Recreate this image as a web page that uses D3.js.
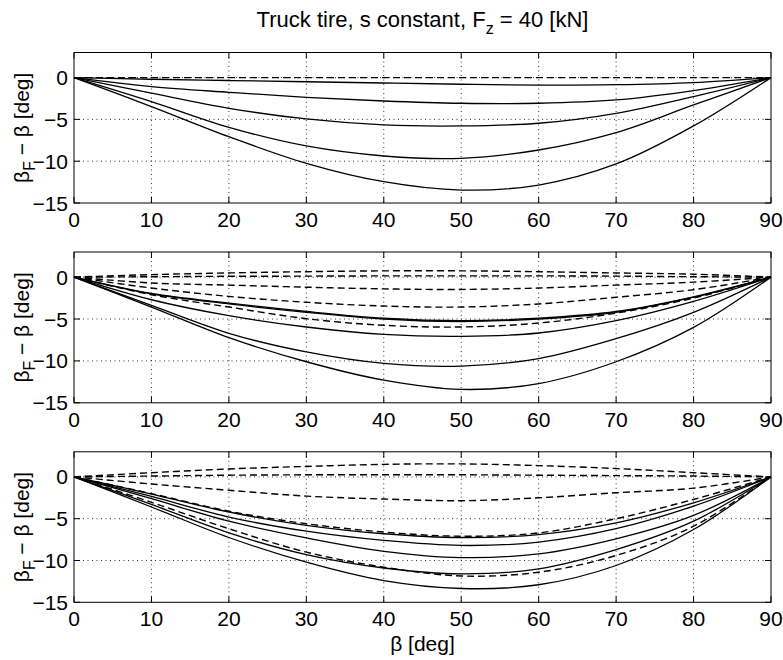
<!DOCTYPE html>
<html><head><meta charset="utf-8">
<script src="https://cdn.jsdelivr.net/npm/d3@7"></script>
<style>body{margin:0;background:#fff}svg{display:block}text{font-family:"Liberation Sans",Arial,Helvetica,sans-serif;fill:#000}</style>
</head><body>
<script>
const beta = [0,10,20,30,40,50,60,70,80,90];
const xTicks = [0,10,20,30,40,50,60,70,80,90];
const yTicks = [0,-5,-10,-15];
const yTickLabels = ["0","\u22125","\u221210","\u221215"];

// Panel 1
const p1Solid = [
  [0,-0.2,-0.35,-0.5,-0.65,-0.8,-0.9,-0.85,-0.6,0],
  [0,-1.08,-1.76,-2.36,-2.8,-3.07,-3.07,-2.67,-1.55,0],
  [0,-1.87,-3.67,-4.95,-5.66,-5.78,-5.46,-4.27,-2.27,0],
  [0,-2.87,-5.95,-8.18,-9.38,-9.66,-8.66,-6.58,-3.27,0],
  [0,-3.47,-7.07,-10.25,-12.45,-13.45,-12.85,-10.33,-5.78,0]
];
const p1Dashed = [
  [0,0,0,0,0,0,0,0,0,0]
];
// Panel 2
const p2Solid = [
  [0,-1.95,-3.1,-4.1,-4.9,-5.2,-4.9,-4.1,-2.35,0],
  [0,-2.0,-3.2,-4.2,-5.0,-5.3,-5.0,-4.2,-2.4,0],
  [0,-2.7,-4.6,-5.95,-6.83,-7.06,-6.67,-5.2,-2.9,0],
  [0,-3.37,-6.7,-8.93,-10.3,-10.63,-9.72,-7.34,-4.2,0],
  [0,-3.57,-7.22,-10.1,-12.3,-13.4,-12.7,-10.1,-6.0,0]
];
const p2Dashed = [
  [0,0.3,0.5,0.65,0.75,0.75,0.65,0.5,0.35,0],
  [0,0.05,0.1,0.12,0.15,0.15,0.15,0.12,0.05,0],
  [0,-0.7,-0.95,-1.2,-1.4,-1.47,-1.3,-0.95,-0.6,0],
  [0,-1.3,-2.3,-3.0,-3.45,-3.57,-3.2,-2.4,-1.5,0],
  [0,-2.1,-3.57,-4.96,-5.75,-5.95,-5.48,-4.3,-2.5,0]
];
// Panel 3
const p3Solid = [
  [0,-2.05,-4.2,-5.8,-6.8,-7.25,-6.9,-5.5,-3.1,0],
  [0,-2.33,-4.8,-6.5,-7.6,-8.2,-7.8,-6.2,-3.5,0],
  [0,-2.6,-5.3,-7.3,-8.9,-9.65,-9.2,-7.4,-4.6,0],
  [0,-3.3,-6.7,-9.3,-10.9,-11.6,-11.0,-8.7,-5.3,0],
  [0,-3.6,-7.25,-10.2,-12.4,-13.35,-12.9,-10.6,-6.3,0]
];
const p3Dashed = [
  [0,0.5,0.95,1.25,1.5,1.55,1.35,1.0,0.5,0],
  [0,0.1,0.2,0.25,0.25,0.25,0.2,0.15,0.1,0],
  [0,-0.85,-1.6,-2.3,-2.65,-2.85,-2.5,-1.9,-1.35,0],
  [0,-2.0,-4.1,-5.6,-6.6,-7.1,-6.7,-5.0,-2.7,0],
  [0,-3.04,-6.2,-9.0,-10.8,-11.85,-11.4,-9.4,-5.9,0]
];

const W = 783, H = 660;
const svg = d3.select("body").append("svg").attr("width", W).attr("height", H);
const left = 74, right = 771;
const panels = [
  {top: 52.5, bottom: 203, solid: p1Solid, dashed: p1Dashed},
  {top: 252, bottom: 402.8, solid: p2Solid, dashed: p2Dashed},
  {top: 451.8, bottom: 602.3, solid: p3Solid, dashed: p3Dashed}
];
const x = d3.scaleLinear().domain([0,90]).range([left,right]);
const FS = 21;

panels.forEach(p => {
  const y = d3.scaleLinear().domain([-15,3]).range([p.bottom,p.top]);
  const g = svg.append("g");
  // grid
  g.selectAll(".gx").data(xTicks.slice(1,-1)).join("line")
    .attr("x1", d=>x(d)).attr("x2", d=>x(d)).attr("y1", p.top).attr("y2", p.bottom)
    .attr("stroke","#000").attr("stroke-width",0.8).attr("stroke-dasharray","1,3.5");
  g.selectAll(".gy").data(yTicks.slice(0,-1)).join("line")
    .attr("y1", d=>y(d)).attr("y2", d=>y(d)).attr("x1", left).attr("x2", right)
    .attr("stroke","#000").attr("stroke-width",0.8).attr("stroke-dasharray","1,3.5");
  const line = d3.line().x((d,i)=>x(beta[i])).y(d=>y(d)).curve(d3.curveCatmullRom.alpha(0.5));
  g.selectAll(".ds").data(p.dashed).join("path")
    .attr("d", line).attr("fill","none").attr("stroke","#000").attr("stroke-width",1.4)
    .attr("stroke-dasharray","7,4");
  g.selectAll(".ss").data(p.solid).join("path")
    .attr("d", line).attr("fill","none").attr("stroke","#000").attr("stroke-width",1.3);
  // frame
  g.append("rect").attr("x",left).attr("y",p.top).attr("width",right-left).attr("height",p.bottom-p.top)
    .attr("fill","none").attr("stroke","#000").attr("stroke-width",1);
  // ticks inward, all sides
  const tl = 6;
  xTicks.forEach(t => {
    g.append("line").attr("x1",x(t)).attr("x2",x(t)).attr("y1",p.bottom).attr("y2",p.bottom-tl).attr("stroke","#000");
    g.append("line").attr("x1",x(t)).attr("x2",x(t)).attr("y1",p.top).attr("y2",p.top+tl).attr("stroke","#000");
  });
  yTicks.forEach(t => {
    g.append("line").attr("x1",left).attr("x2",left+tl).attr("y1",y(t)).attr("y2",y(t)).attr("stroke","#000");
    g.append("line").attr("x1",right).attr("x2",right-tl).attr("y1",y(t)).attr("y2",y(t)).attr("stroke","#000");
  });
  // tick labels
  g.selectAll(".xl").data(xTicks).join("text")
    .attr("x", d=>x(d)).attr("y", p.bottom+24).attr("text-anchor","middle")
    .attr("font-size",FS).text(d=>d);
  g.selectAll(".yl").data(yTicks).join("text")
    .attr("x", left-6).attr("y", d=> y(d)+7.5).attr("text-anchor","end")
    .attr("font-size",FS).text((d,i)=>yTickLabels[i]);
  // y label
  const cy = (p.top+p.bottom)/2;
  const yl = g.append("text").attr("transform",`translate(29,${cy}) rotate(-90)`)
    .attr("text-anchor","middle").attr("font-size",FS);
  yl.append("tspan").text("\u03b2");
  yl.append("tspan").attr("dy",6).attr("font-size",FS*0.75).text("F");
  yl.append("tspan").attr("dy",-6).text(" \u2212 \u03b2 [deg]");
});

// title
const tt = svg.append("text").attr("x",(left+right)/2).attr("y",27).attr("text-anchor","middle").attr("font-size",22);
tt.append("tspan").text("Truck tire, s constant, F");
tt.append("tspan").attr("dy",7).attr("font-size",16).text("z");
tt.append("tspan").attr("dy",-7).text(" = 40 [kN]");
// x label
svg.append("text").attr("x",(left+right)/2).attr("y",651).attr("text-anchor","middle").attr("font-size",FS).text("\u03b2 [deg]");
</script>
</body></html>
